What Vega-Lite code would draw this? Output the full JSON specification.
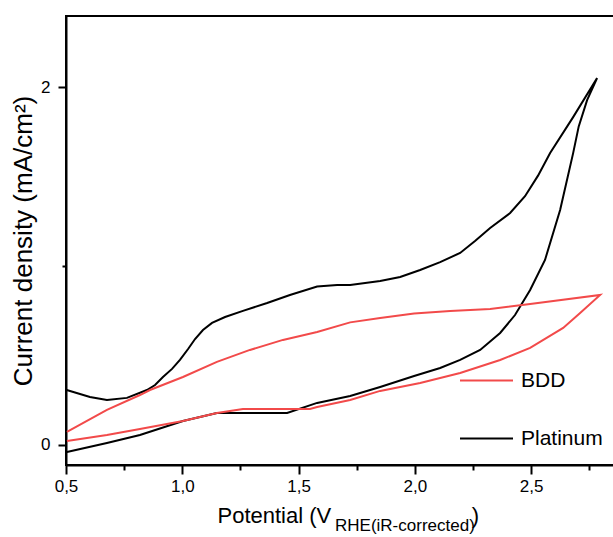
{
  "$schema": "https://vega.github.io/schema/vega-lite/v6.json",
  "width": 549,
  "height": 449,
  "autosize": "none",
  "padding": {"left": 66, "top": 16, "right": 0, "bottom": 72},
  "background": "white",
  "config": {"view": {"stroke": "black", "strokeWidth": 2}, "font": "Liberation Sans"},
  "title": {"text": "RHE(iR-corrected)", "orient": "bottom", "anchor": "start", "frame": "group", "fontSize": 17, "fontWeight": "normal", "font": "Liberation Sans", "color": "black", "dx": 269, "dy": -8, "offset": 0},
  "data": {"values": [
    {"electrode": "Platinum", "step": 1, "potential": 0.503, "current": 0.307},
    {"electrode": "Platinum", "step": 2, "potential": 0.603, "current": 0.268},
    {"electrode": "Platinum", "step": 3, "potential": 0.676, "current": 0.251},
    {"electrode": "Platinum", "step": 4, "potential": 0.762, "current": 0.263},
    {"electrode": "Platinum", "step": 5, "potential": 0.848, "current": 0.307},
    {"electrode": "Platinum", "step": 6, "potential": 0.883, "current": 0.335},
    {"electrode": "Platinum", "step": 7, "potential": 0.917, "current": 0.380},
    {"electrode": "Platinum", "step": 8, "potential": 0.956, "current": 0.425},
    {"electrode": "Platinum", "step": 9, "potential": 0.990, "current": 0.475},
    {"electrode": "Platinum", "step": 10, "potential": 1.025, "current": 0.536},
    {"electrode": "Platinum", "step": 11, "potential": 1.055, "current": 0.592},
    {"electrode": "Platinum", "step": 12, "potential": 1.089, "current": 0.642},
    {"electrode": "Platinum", "step": 13, "potential": 1.128, "current": 0.682},
    {"electrode": "Platinum", "step": 14, "potential": 1.184, "current": 0.715},
    {"electrode": "Platinum", "step": 15, "potential": 1.261, "current": 0.749},
    {"electrode": "Platinum", "step": 16, "potential": 1.365, "current": 0.793},
    {"electrode": "Platinum", "step": 17, "potential": 1.463, "current": 0.838},
    {"electrode": "Platinum", "step": 18, "potential": 1.580, "current": 0.885},
    {"electrode": "Platinum", "step": 19, "potential": 1.666, "current": 0.894},
    {"electrode": "Platinum", "step": 20, "potential": 1.722, "current": 0.894},
    {"electrode": "Platinum", "step": 21, "potential": 1.851, "current": 0.916},
    {"electrode": "Platinum", "step": 22, "potential": 1.937, "current": 0.939},
    {"electrode": "Platinum", "step": 23, "potential": 2.023, "current": 0.978},
    {"electrode": "Platinum", "step": 24, "potential": 2.109, "current": 1.022},
    {"electrode": "Platinum", "step": 25, "potential": 2.195, "current": 1.073},
    {"electrode": "Platinum", "step": 26, "potential": 2.259, "current": 1.140},
    {"electrode": "Platinum", "step": 27, "potential": 2.324, "current": 1.212},
    {"electrode": "Platinum", "step": 28, "potential": 2.410, "current": 1.296},
    {"electrode": "Platinum", "step": 29, "potential": 2.474, "current": 1.390},
    {"electrode": "Platinum", "step": 30, "potential": 2.530, "current": 1.505},
    {"electrode": "Platinum", "step": 31, "potential": 2.582, "current": 1.631},
    {"electrode": "Platinum", "step": 32, "potential": 2.681, "current": 1.832},
    {"electrode": "Platinum", "step": 33, "potential": 2.784, "current": 2.050},
    {"electrode": "Platinum", "step": 34, "potential": 2.741, "current": 1.927},
    {"electrode": "Platinum", "step": 35, "potential": 2.705, "current": 1.780},
    {"electrode": "Platinum", "step": 36, "potential": 2.681, "current": 1.631},
    {"electrode": "Platinum", "step": 37, "potential": 2.625, "current": 1.313},
    {"electrode": "Platinum", "step": 38, "potential": 2.560, "current": 1.034},
    {"electrode": "Platinum", "step": 39, "potential": 2.496, "current": 0.866},
    {"electrode": "Platinum", "step": 40, "potential": 2.431, "current": 0.726},
    {"electrode": "Platinum", "step": 41, "potential": 2.367, "current": 0.626},
    {"electrode": "Platinum", "step": 42, "potential": 2.281, "current": 0.531},
    {"electrode": "Platinum", "step": 43, "potential": 2.195, "current": 0.475},
    {"electrode": "Platinum", "step": 44, "potential": 2.109, "current": 0.430},
    {"electrode": "Platinum", "step": 45, "potential": 1.997, "current": 0.385},
    {"electrode": "Platinum", "step": 46, "potential": 1.851, "current": 0.324},
    {"electrode": "Platinum", "step": 47, "potential": 1.722, "current": 0.274},
    {"electrode": "Platinum", "step": 48, "potential": 1.580, "current": 0.235},
    {"electrode": "Platinum", "step": 49, "potential": 1.451, "current": 0.179},
    {"electrode": "Platinum", "step": 50, "potential": 1.248, "current": 0.179},
    {"electrode": "Platinum", "step": 51, "potential": 1.149, "current": 0.179},
    {"electrode": "Platinum", "step": 52, "potential": 1.003, "current": 0.134},
    {"electrode": "Platinum", "step": 53, "potential": 0.818, "current": 0.056},
    {"electrode": "Platinum", "step": 54, "potential": 0.676, "current": 0.011},
    {"electrode": "Platinum", "step": 55, "potential": 0.504, "current": -0.039},
    {"electrode": "BDD", "step": 1, "potential": 0.504, "current": 0.073},
    {"electrode": "BDD", "step": 2, "potential": 0.676, "current": 0.196},
    {"electrode": "BDD", "step": 3, "potential": 0.818, "current": 0.279},
    {"electrode": "BDD", "step": 4, "potential": 0.861, "current": 0.307},
    {"electrode": "BDD", "step": 5, "potential": 1.003, "current": 0.380},
    {"electrode": "BDD", "step": 6, "potential": 1.149, "current": 0.464},
    {"electrode": "BDD", "step": 7, "potential": 1.291, "current": 0.531},
    {"electrode": "BDD", "step": 8, "potential": 1.433, "current": 0.587},
    {"electrode": "BDD", "step": 9, "potential": 1.580, "current": 0.631},
    {"electrode": "BDD", "step": 10, "potential": 1.722, "current": 0.685},
    {"electrode": "BDD", "step": 11, "potential": 1.851, "current": 0.709},
    {"electrode": "BDD", "step": 12, "potential": 1.997, "current": 0.735},
    {"electrode": "BDD", "step": 13, "potential": 2.152, "current": 0.749},
    {"electrode": "BDD", "step": 14, "potential": 2.324, "current": 0.760},
    {"electrode": "BDD", "step": 15, "potential": 2.496, "current": 0.788},
    {"electrode": "BDD", "step": 16, "potential": 2.797, "current": 0.838},
    {"electrode": "BDD", "step": 17, "potential": 2.711, "current": 0.737},
    {"electrode": "BDD", "step": 18, "potential": 2.638, "current": 0.654},
    {"electrode": "BDD", "step": 19, "potential": 2.496, "current": 0.542},
    {"electrode": "BDD", "step": 20, "potential": 2.367, "current": 0.475},
    {"electrode": "BDD", "step": 21, "potential": 2.195, "current": 0.402},
    {"electrode": "BDD", "step": 22, "potential": 2.023, "current": 0.346},
    {"electrode": "BDD", "step": 23, "potential": 1.851, "current": 0.302},
    {"electrode": "BDD", "step": 24, "potential": 1.722, "current": 0.251},
    {"electrode": "BDD", "step": 25, "potential": 1.580, "current": 0.212},
    {"electrode": "BDD", "step": 26, "potential": 1.549, "current": 0.201},
    {"electrode": "BDD", "step": 27, "potential": 1.261, "current": 0.201},
    {"electrode": "BDD", "step": 28, "potential": 1.149, "current": 0.179},
    {"electrode": "BDD", "step": 29, "potential": 1.003, "current": 0.134},
    {"electrode": "BDD", "step": 30, "potential": 0.818, "current": 0.089},
    {"electrode": "BDD", "step": 31, "potential": 0.676, "current": 0.056},
    {"electrode": "BDD", "step": 32, "potential": 0.504, "current": 0.022}
  ]},
  "mark": {"type": "line", "strokeWidth": 2, "clip": true},
  "encoding": {
    "x": {
      "field": "potential", "type": "quantitative",
      "scale": {"domain": [0.5, 2.861], "nice": false, "zero": false},
      "axis": {
        "values": [0.5, 0.75, 1, 1.25, 1.5, 1.75, 2, 2.25, 2.5, 2.75],
        "labelExpr": "round(datum.value*4) % 2 == 0 ? replace(format(datum.value, '.1f'), '.', ',') : ''",
        "tickSize": {"condition": {"test": "round(datum.value*4) % 2 == 1", "value": 5}, "value": 9},
        "tickWidth": 2, "tickColor": "black", "domainColor": "black", "domainWidth": 2,
        "labelFontSize": 17, "labelColor": "black", "labelPadding": 4, "labelFlush": false, "labelOverlap": false,
        "grid": false,
        "title": "Potential (V\u00a0\u00a0\u00a0\u00a0\u00a0\u00a0\u00a0\u00a0\u00a0\u00a0\u00a0\u00a0\u00a0\u00a0\u00a0\u00a0\u00a0\u00a0\u00a0\u00a0\u00a0\u00a0\u00a0)",
        "titleFontSize": 22, "titleFontWeight": "normal", "titleColor": "black",
        "titleX": 151, "titleY": 57, "titleAlign": "left", "titleBaseline": "alphabetic"
      }
    },
    "y": {
      "field": "current", "type": "quantitative",
      "scale": {"domain": [-0.112, 2.397], "nice": false, "zero": false},
      "axis": {
        "values": [0, 1, 2],
        "labelExpr": "datum.value == 1 ? '' : datum.label",
        "tickSize": {"condition": {"test": "datum.value == 1", "value": 4}, "value": 8},
        "tickWidth": 2, "tickColor": "black", "domainColor": "black", "domainWidth": 2,
        "labelFontSize": 17, "labelColor": "black", "labelPadding": 8, "labelOverlap": false,
        "grid": false,
        "title": "Current density (mA/cm²)",
        "titleFontSize": 26, "titleFontWeight": "normal", "titleColor": "black", "titlePadding": 4
      }
    },
    "color": {
      "field": "electrode", "type": "nominal",
      "scale": {"domain": ["BDD", "Platinum"], "range": ["#f24a4a", "#000000"]},
      "legend": {
        "orient": "none", "legendX": 393, "legendY": 337, "title": null,
        "symbolType": "stroke", "symbolSize": 2809, "symbolStrokeWidth": 2,
        "labelFontSize": 21, "labelFont": "Liberation Sans", "labelColor": "black",
        "labelOffset": 7, "rowPadding": 20, "padding": 0
      }
    },
    "order": {"field": "step", "type": "quantitative"}
  }
}
